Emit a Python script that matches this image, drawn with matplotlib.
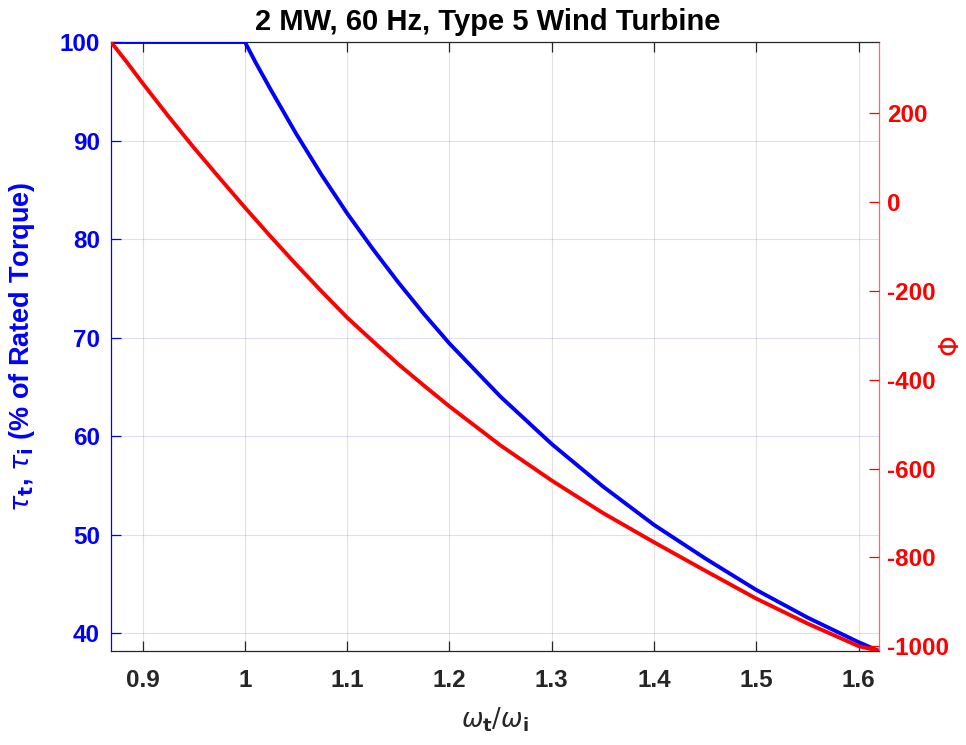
import matplotlib
matplotlib.use("Agg")
import matplotlib.pyplot as plt

# ---- data ----
speed_ratio = [0.869, 0.885, 0.90, 0.925, 0.95, 0.975, 1.00, 1.01, 1.025, 1.05,
               1.075, 1.10, 1.125, 1.15, 1.175, 1.20, 1.25, 1.30, 1.35, 1.40,
               1.45, 1.50, 1.55, 1.60, 1.620]
torque_pct = [100.0, 100.0, 100.0, 100.0, 100.0, 100.0, 100.0, 98.0, 95.2, 90.7,
              86.5, 82.6, 79.0, 75.6, 72.4, 69.4, 64.0, 59.2, 54.9, 51.0,
              47.6, 44.4, 41.6, 39.1, 38.2]
phi_vals = [361, 314, 268, 194, 123, 55, -12, -38, -77, -140,
            -201, -260, -313, -365, -413, -460, -548, -627, -700, -766,
            -830, -893, -949, -1000, -1011]

x_ticks = [0.9, 1.0, 1.1, 1.2, 1.3, 1.4, 1.5, 1.6]
x_ticklabels = ["0.9", "1", "1.1", "1.2", "1.3", "1.4", "1.5", "1.6"]
left_ticks = [40, 50, 60, 70, 80, 90, 100]
right_ticks = [-1000, -800, -600, -400, -200, 0, 200]

title_text = "2 MW, 60 Hz, Type 5 Wind Turbine"

plt.rcParams['font.family'] = ['Liberation Sans', 'DejaVu Sans']
plt.rcParams['mathtext.fontset'] = 'dejavusans'
plt.rcParams['axes.unicode_minus'] = False

BLUE = (0, 0, 1)
RED = (1, 0, 0)
DARK = (0.15, 0.15, 0.15)

fig = plt.figure(figsize=(9.66, 7.45), dpi=100)
ax = fig.add_axes([111/966, 1-651/745, (879-111)/966, (651-42)/745])
ax2 = ax.twinx()

ax.plot(speed_ratio, torque_pct, color=BLUE, lw=2.8, solid_joinstyle='round', zorder=3)
ax2.plot(speed_ratio, phi_vals, color=RED, lw=2.8, solid_joinstyle='round', zorder=3)

ax.set_xlim(0.869, 1.620)
ax.set_ylim(38.2, 100)
ax2.set_ylim(-1011, 361)

ax.set_xticks(x_ticks)
ax.set_xticklabels(x_ticklabels)
ax.set_yticks(left_ticks)
ax2.set_yticks(right_ticks)
ax2.set_yticklabels([str(v) for v in right_ticks])

# grid
for v in x_ticks:
    ax.axvline(v, color=(0.15, 0.15, 0.15, 0.13), lw=0.8, zorder=0)
for v in left_ticks:
    ax.axhline(v, color=(0, 0, 1, 0.13), lw=0.8, zorder=0)

# spines
ax.spines['left'].set_color(BLUE)
ax.spines['bottom'].set_color(DARK)
ax.spines['top'].set_color(DARK)
ax.spines['right'].set_visible(False)
ax2.spines['right'].set_color((1, 0, 0, 0.6))
ax2.spines['left'].set_visible(False)
ax2.spines['top'].set_visible(False)
ax2.spines['bottom'].set_visible(False)
for sp in ax.spines.values():
    sp.set_linewidth(0.9)
ax2.spines['right'].set_linewidth(0.9)

ax.tick_params(axis='x', direction='in', length=7, width=0.9, colors=DARK,
               labelsize=17.5, pad=13, top=True)
ax.tick_params(axis='y', direction='in', length=7, width=0.9, colors=BLUE,
               labelsize=17.5, pad=8)
ax2.tick_params(axis='y', direction='in', length=7, width=0.9, colors=RED,
                labelsize=17.5, pad=6)
for lab in ax.get_xticklabels() + ax.get_yticklabels() + ax2.get_yticklabels():
    lab.set_fontweight('bold')

ax.set_title(title_text, fontsize=21, fontweight='bold', color='black', pad=9, x=0.491)
ax.set_xlabel(r'$\omega_{\mathbf{t}}/\omega_{\mathbf{i}}$', fontsize=18.5, color=DARK)
ax.xaxis.set_label_coords(0.5, -0.09)
ax.set_ylabel(r'$\tau_{\mathbf{t}}$, $\tau_{\mathbf{i}}$ (% of Rated Torque)', fontsize=19.5,
              color=BLUE, fontweight='bold')
ax.yaxis.set_label_coords(-0.096, 0.5)
ax2.set_ylabel(r'$\Phi$', fontsize=19, color=RED, rotation=90)
ax2.yaxis.set_label_coords(1.08, 0.5)

fig.savefig("out.png", dpi=100, facecolor='white')
